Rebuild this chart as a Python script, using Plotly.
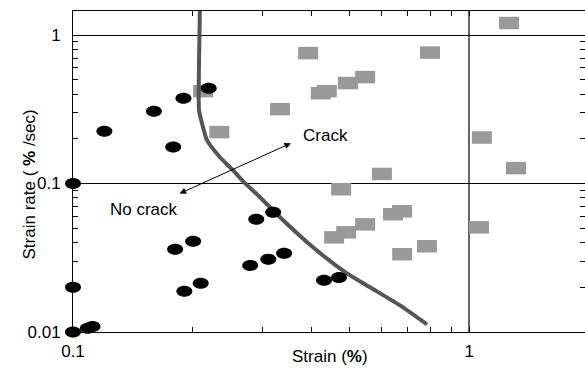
import math
import plotly.graph_objects as go

# ---------------------------------------------------------------- data
# Specimens that stayed intact: strain (%) and strain rate (%/sec)
intact_strain = [0.100, 0.100, 0.100, 0.109, 0.112, 0.120, 0.160, 0.190, 0.179,
                 0.220, 0.181, 0.201, 0.191, 0.210, 0.290, 0.320, 0.280, 0.311,
                 0.341, 0.430, 0.469]
intact_rate = [0.100, 0.0200, 0.0100, 0.0106, 0.0109, 0.225, 0.307, 0.376, 0.176,
               0.439, 0.0361, 0.0408, 0.0188, 0.0213, 0.0575, 0.0641, 0.0281, 0.0309,
               0.0339, 0.0223, 0.0233]

# Specimens that cracked
cracked_strain = [0.392, 0.796, 1.260, 0.213, 0.422, 0.437, 0.494, 0.546, 0.333,
                  0.234, 0.602, 1.076, 1.312, 0.475, 0.456, 0.489, 0.546, 0.642,
                  0.677, 1.058, 0.782, 0.677]
cracked_rate = [0.756, 0.762, 1.205, 0.419, 0.406, 0.419, 0.475, 0.521, 0.317,
                0.222, 0.116, 0.204, 0.127, 0.0915, 0.0434, 0.0469, 0.0531, 0.0621,
                0.0650, 0.0507, 0.0378, 0.0334]

# Crack / no-crack boundary
boundary_strain = [0.209, 0.208, 0.208, 0.2116, 0.2178, 0.2349, 0.2533, 0.2716,
                   0.2964, 0.333, 0.4033, 0.4914, 0.5616, 0.6686, 0.782]
boundary_rate = [1.45, 0.678, 0.312, 0.255, 0.196, 0.1504, 0.1229, 0.1005,
                 0.0809, 0.0593, 0.0372, 0.0248, 0.0200, 0.0151, 0.01125]

# Axis ticks
x_major = [0.1, 1]
x_major_text = ["0.1", "1"]
x_minor = [0.2, 0.3, 0.4, 0.5, 0.6, 0.7, 0.8, 0.9]
y_major = [0.01, 0.1, 1]
y_major_text = ["0.01", "0.1", "1"]
y_minor = [0.02, 0.03, 0.04, 0.05, 0.06, 0.07, 0.08, 0.09,
           0.2, 0.3, 0.4, 0.5, 0.6, 0.7, 0.8, 0.9]

# ---------------------------------------------------------------- geometry
FIG_W, FIG_H = 585, 378
FRAME_L, FRAME_R, FRAME_T, FRAME_B = 73, 585, 11, 332
PAD = 16  # extra room so marks sitting on the axes are not cut off

X_RANGE = [-1.0, 0.292]    # log10 of strain
Y_RANGE = [-2.0, 0.162]    # log10 of strain rate

frame_w = FRAME_R - FRAME_L
frame_h = FRAME_B - FRAME_T
paper_l, paper_r, paper_t, paper_b = FRAME_L - PAD, FRAME_R, FRAME_T, FRAME_B + PAD
paper_w = paper_r - paper_l
paper_h = paper_b - paper_t

# marker layer spans the frame plus the padding, on the same scale
x2_range = [X_RANGE[0] - PAD * (X_RANGE[1] - X_RANGE[0]) / frame_w, X_RANGE[1]]
y2_range = [Y_RANGE[0] - PAD * (Y_RANGE[1] - Y_RANGE[0]) / frame_h, Y_RANGE[1]]


def px_x(p):
    return (p - paper_l) / paper_w


def px_y(p):
    return (paper_b - p) / paper_h


FONT = "Liberation Sans, Arial, sans-serif"


def ellipse_path(rx, ry):
    """Ellipse outline (pixel offsets around an anchor) from four Bezier arcs."""
    k = 0.5523
    return (f"M {rx},0 C {rx},{k*ry:.3f} {k*rx:.3f},{ry} 0,{ry} "
            f"C {-k*rx:.3f},{ry} {-rx},{k*ry:.3f} {-rx},0 "
            f"C {-rx},{-k*ry:.3f} {-k*rx:.3f},{-ry} 0,{-ry} "
            f"C {k*rx:.3f},{-ry} {rx},{-k*ry:.3f} {rx},0 Z")


def box_path(hw, hh):
    """Rectangle outline (pixel offsets around an anchor)."""
    return f"M {-hw},{-hh} L {hw},{-hh} L {hw},{hh} L {-hw},{hh} Z"


DOT_PATH = ellipse_path(8, 5.5)
BOX_PATH = box_path(10, 6.25)

fig = go.Figure()

fig.add_trace(go.Scatter(
    x=boundary_strain, y=boundary_rate, xaxis="x2", yaxis="y2",
    mode="lines", line=dict(color="#555555", width=4, shape="spline", smoothing=0.6),
    hoverinfo="skip", showlegend=False,
))

shapes = []
for s, r in zip(cracked_strain, cracked_rate):
    shapes.append(dict(
        type="path", path=BOX_PATH, xref="x2", yref="y2",
        xsizemode="pixel", ysizemode="pixel", xanchor=s, yanchor=r,
        fillcolor="#999999", line=dict(width=0), layer="below",
    ))
for s, r in zip(intact_strain, intact_rate):
    shapes.append(dict(
        type="path", path=DOT_PATH, xref="x2", yref="y2",
        xsizemode="pixel", ysizemode="pixel", xanchor=s, yanchor=r,
        fillcolor="black", line=dict(width=0), layer="above",
    ))

annotations = [
    dict(x=math.log10(0.3548), y=math.log10(0.187), ax=math.log10(0.1841),
         ay=math.log10(0.0847), xref="x", yref="y", axref="x", ayref="y",
         text="", showarrow=True, arrowhead=2, startarrowhead=2, arrowside="end+start",
         arrowsize=1.3, startarrowsize=1.3, arrowwidth=1, arrowcolor="black"),
    dict(x=math.log10(0.4327), y=math.log10(0.2113), xref="x", yref="y",
         text="Crack", showarrow=False, font=dict(family=FONT, size=17, color="black")),
    dict(x=math.log10(0.1515), y=math.log10(0.0666), xref="x", yref="y",
         text="No crack", showarrow=False, font=dict(family=FONT, size=17, color="black")),
    dict(x=px_x(329.5), y=px_y(367.5), xref="paper", yref="paper",
         text="Strain (<b>%</b>)", showarrow=False,
         font=dict(family=FONT, size=17, color="black")),
    dict(x=px_x(17), y=px_y(185), xref="paper", yref="paper", textangle=-90,
         text="Strain rate ( <b>%</b> /sec)", showarrow=False,
         font=dict(family=FONT, size=17, color="black")),
]

axis_common = dict(
    type="log", showline=True, linecolor="black", linewidth=1, mirror="allticks",
    ticks="inside", ticklen=5, tickcolor="black", tickwidth=1,
    zeroline=False,
    tickfont=dict(family=FONT, size=17, color="black"),
)

fig.update_layout(
    width=FIG_W, height=FIG_H,
    margin=dict(l=paper_l, r=FIG_W - paper_r, t=paper_t, b=FIG_H - paper_b, pad=0),
    paper_bgcolor="white", plot_bgcolor="rgba(0,0,0,0)",
    showlegend=False, hovermode=False,
    xaxis=dict(
        axis_common, range=X_RANGE, domain=[PAD / paper_w, 1], anchor="y",
        tickvals=x_major, ticktext=x_major_text, ticklabelstandoff=4,
        showgrid=True, gridcolor="#666666", gridwidth=1.5,
        minor=dict(tickvals=x_minor, ticks="inside", ticklen=5, tickcolor="black",
                   showgrid=False),
    ),
    yaxis=dict(
        axis_common, range=Y_RANGE, domain=[PAD / paper_h, 1], anchor="x",
        tickvals=y_major, ticktext=y_major_text, ticklabelstandoff=8,
        showgrid=True, gridcolor="black", gridwidth=1,
        minor=dict(tickvals=y_minor, ticks="inside", ticklen=5, tickcolor="black",
                   showgrid=False),
    ),
    xaxis2=dict(type="log", range=x2_range, domain=[0, 1], anchor="y2", visible=False),
    yaxis2=dict(type="log", range=y2_range, domain=[0, 1], anchor="x2", visible=False),
    shapes=shapes,
    annotations=annotations,
)

fig.write_html("out.html", config={"displayModeBar": False})
